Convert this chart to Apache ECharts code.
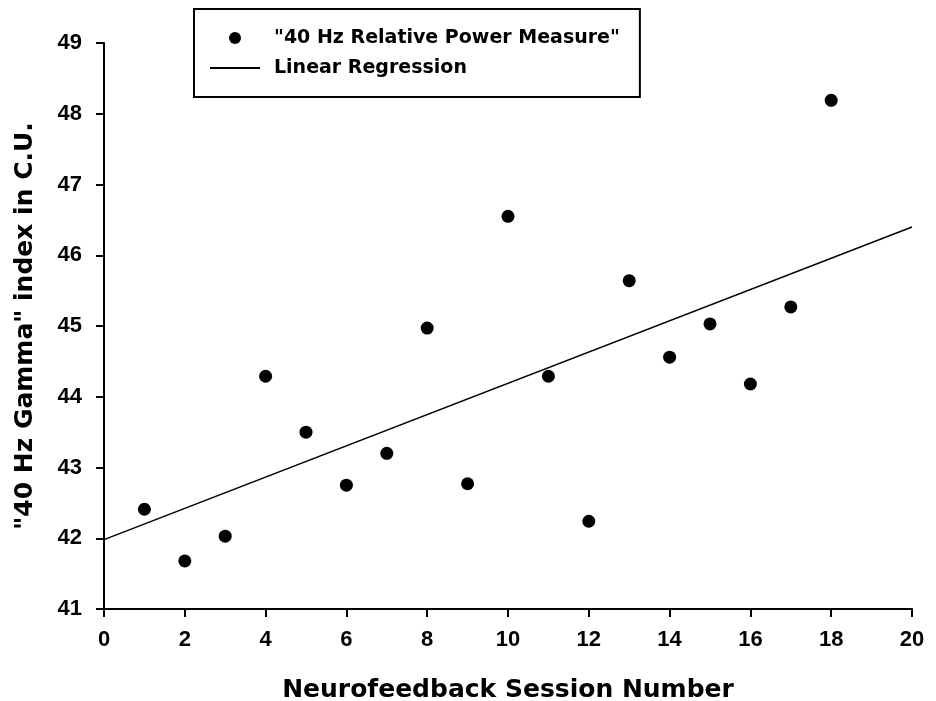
<!DOCTYPE html>
<html>
<head>
<meta charset="utf-8">
<script src="https://cdn.jsdelivr.net/npm/echarts@6/dist/echarts.min.js"></script>
<style>
  html, body { margin: 0; padding: 0; background: #fff; }
  #chart { width: 936px; height: 701px; }
</style>
</head>
<body>
<div id="chart"></div>
<script>
const sessions = [1, 2, 3, 4, 5, 6, 7, 8, 9, 10, 11, 12, 13, 14, 15, 16, 17, 18];
const gammaIndex = [42.41, 41.68, 42.03, 44.29, 43.50, 42.75, 43.20, 44.97, 42.77,
  46.55, 44.29, 42.24, 45.64, 44.56, 45.03, 44.18, 45.27, 48.19];
// regression line end points, as drawn
const regX = [0, 20];
const regY = [41.98, 46.40];

const titleFont = 'DejaVu Sans';
const tickFont = 'Liberation Sans';

const chart = echarts.init(document.getElementById('chart'));
chart.setOption({
  animation: false,
  backgroundColor: '#fff',
  grid: { left: 104, right: 24, top: 43, bottom: 92, outerBoundsMode: 'none', containLabel: false },
  legend: {
    orient: 'vertical',
    left: 194,
    top: 9,
    padding: [18, 20, 18, 15],
    itemWidth: 50,
    itemHeight: 12,
    itemGap: 8,
    borderColor: '#000',
    borderWidth: 2,
    textStyle: {
      fontFamily: titleFont,
      fontWeight: 'bold',
      fontSize: 19,
      color: '#000',
      lineHeight: 22,
      padding: [0, 0, 0, 9],
    },
    data: [
      '"40 Hz Relative Power Measure"',
      { name: 'Linear Regression', itemStyle: { opacity: 0 } },
    ],
  },
  xAxis: {
    type: 'value',
    min: 0,
    max: 20,
    interval: 2,
    name: 'Neurofeedback Session Number',
    nameLocation: 'middle',
    nameGap: 69,
    nameTextStyle: { fontFamily: titleFont, fontWeight: 'bold', fontSize: 25, color: '#000' },
    axisLine: { lineStyle: { color: '#000', width: 2 } },
    axisTick: { length: 8, lineStyle: { color: '#000', width: 2 } },
    axisLabel: { margin: 20, fontFamily: tickFont, fontWeight: 'bold', fontSize: 22, color: '#000' },
    splitLine: { show: false },
  },
  yAxis: {
    type: 'value',
    min: 41,
    max: 49,
    interval: 1,
    name: '"40 Hz Gamma" index in C.U.',
    nameLocation: 'middle',
    nameGap: 66,
    nameTextStyle: { fontFamily: titleFont, fontWeight: 'bold', fontSize: 25, color: '#000' },
    axisLine: { show: true, lineStyle: { color: '#000', width: 2 } },
    axisTick: { show: true, length: 8, lineStyle: { color: '#000', width: 2 } },
    axisLabel: { margin: 22, fontFamily: tickFont, fontWeight: 'bold', fontSize: 22, color: '#000' },
    splitLine: { show: false },
  },
  series: [
    {
      name: '"40 Hz Relative Power Measure"',
      type: 'scatter',
      symbol: 'circle',
      symbolSize: 13,
      itemStyle: { color: '#000', opacity: 1 },
      data: sessions.map((s, i) => [s, gammaIndex[i]]),
    },
    {
      name: 'Linear Regression',
      type: 'line',
      symbol: 'none',
      itemStyle: { color: '#000' },
      lineStyle: { color: '#000', width: 1.5 },
      data: regX.map((x, i) => [x, regY[i]]),
    },
  ],
});
</script>
</body>
</html>
